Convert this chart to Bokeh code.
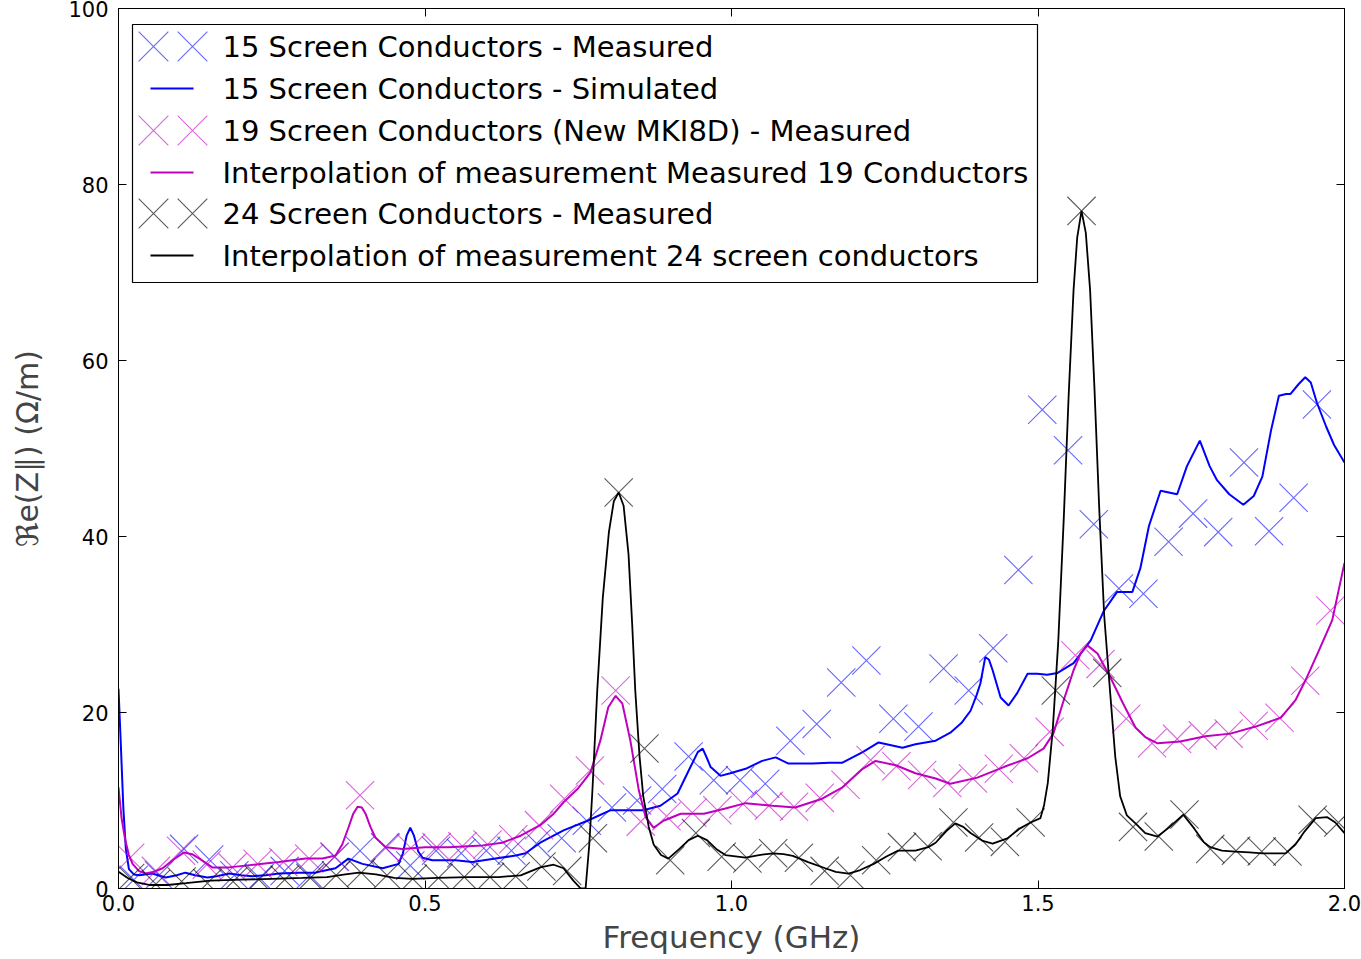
from bokeh.plotting import figure
from bokeh.models import Range1d, FixedTicker, LinearAxis, Label
from bokeh.embed import file_html
from bokeh.resources import INLINE

# ---------------- data ----------------
freq_15_meas = [0.025, 0.066, 0.107, 0.148, 0.189, 0.230, 0.271, 0.312, 0.353, 0.394,
                0.435, 0.476, 0.518, 0.559, 0.600, 0.641, 0.682, 0.723, 0.764, 0.805,
                0.846, 0.887, 0.930, 0.971, 1.014, 1.055, 1.096, 1.139, 1.179, 1.220,
                1.264, 1.305, 1.346, 1.387, 1.427, 1.468, 1.507, 1.549, 1.591, 1.632,
                1.672, 1.713, 1.753, 1.794, 1.836, 1.877, 1.917, 1.955]
re_15_meas = [1.0, 1.5, 4.5, 3.3, 1.5, 1.2, 2.0, 1.5, 3.6, 4.3,
              4.7, 2.6, 4.3, 4.0, 4.3, 4.3, 5.1, 5.7, 7.7, 9.2,
              10.0, 11.3, 15.0, 12.3, 12.3, 11.9, 16.8, 18.7, 23.4, 25.9,
              19.3, 18.4, 25.0, 22.5, 27.3, 36.2, 54.4, 49.8, 41.4, 34.1,
              33.5, 39.4, 42.6, 40.5, 48.4, 40.6, 44.4, 55.0]

freq_15_sim = [0.000, 0.004, 0.008, 0.012, 0.017, 0.025, 0.034, 0.055, 0.077, 0.095,
               0.109, 0.125, 0.145, 0.160, 0.181, 0.200, 0.218, 0.240, 0.262, 0.295,
               0.321, 0.333, 0.354, 0.375, 0.398, 0.431, 0.457, 0.464, 0.470, 0.476,
               0.482, 0.489, 0.496, 0.512, 0.550, 0.577, 0.615, 0.648, 0.664, 0.688,
               0.726, 0.765, 0.803, 0.830, 0.856, 0.884, 0.912, 0.933, 0.945, 0.953,
               0.960, 0.966, 0.982, 0.998, 1.023, 1.050, 1.072, 1.093, 1.132, 1.160,
               1.181, 1.214, 1.240, 1.279, 1.300, 1.333, 1.357, 1.375, 1.390, 1.400,
               1.406, 1.414, 1.420, 1.426, 1.439, 1.452, 1.466, 1.483, 1.499, 1.515,
               1.532, 1.558, 1.586, 1.607, 1.629, 1.654, 1.667, 1.681, 1.700, 1.727,
               1.743, 1.764, 1.780, 1.792, 1.812, 1.835, 1.852, 1.866, 1.880, 1.893,
               1.905, 1.912, 1.925, 1.936, 1.945, 1.955, 1.970, 1.983, 2.000]
re_15_sim = [22.7, 16.0, 9.0, 4.5, 2.2, 1.6, 1.5, 1.7, 1.25, 1.5,
             1.8, 1.5, 1.25, 1.4, 1.7, 1.5, 1.4, 1.5, 1.7, 1.8,
             1.8, 2.0, 2.3, 3.4, 2.8, 2.3, 2.8, 4.0, 6.0, 6.9,
             6.0, 4.2, 3.5, 3.2, 3.2, 3.0, 3.4, 3.75, 4.0, 5.2,
             6.6, 7.7, 8.9, 8.9, 8.9, 9.4, 10.8, 13.8, 15.5, 15.9,
             14.8, 13.8, 12.8, 13.1, 13.6, 14.5, 14.9, 14.2, 14.2, 14.3,
             14.3, 15.5, 16.6, 16.0, 16.4, 16.8, 17.7, 18.8, 20.2, 22.0,
             23.3, 26.3, 26.0, 24.8, 21.7, 20.8, 22.2, 24.4, 24.4, 24.3,
             24.5, 25.6, 28.2, 31.5, 33.7, 33.7, 36.4, 41.2, 45.2, 44.8,
             48.0, 50.9, 48.0, 46.4, 44.8, 43.6, 44.6, 46.8, 52.0, 56.0,
             56.2, 56.2, 57.3, 58.1, 57.5, 55.2, 52.5, 50.4, 48.4]

freq_19_meas = [0.019, 0.061, 0.102, 0.144, 0.186, 0.227, 0.269, 0.311, 0.352, 0.394,
                0.436, 0.477, 0.519, 0.561, 0.602, 0.644, 0.686, 0.727, 0.769, 0.811,
                0.852, 0.894, 0.936, 0.977, 1.019, 1.061, 1.102, 1.144, 1.186, 1.227,
                1.269, 1.311, 1.352, 1.394, 1.436, 1.477, 1.519, 1.561, 1.602, 1.644,
                1.686, 1.727, 1.769, 1.811, 1.852, 1.894, 1.936, 1.977]
re_19_meas = [3.5, 2.0, 4.3, 2.7, 2.4, 2.8, 3.0, 3.4, 3.6, 10.6,
              4.6, 4.6, 4.7, 4.8, 5.0, 5.6, 7.2, 10.2, 13.4, 22.5,
              7.6, 8.2, 8.6, 8.9, 9.6, 9.4, 9.3, 10.3, 11.8, 14.6,
              13.9, 12.9, 12.0, 12.5, 13.6, 14.8, 17.8, 26.5, 25.5, 19.3,
              16.5, 17.0, 17.4, 17.6, 18.5, 19.4, 23.6, 31.6]

freq_19_interp = [0.000, 0.005, 0.011, 0.017, 0.023, 0.033, 0.044, 0.058, 0.072, 0.090,
                  0.107, 0.120, 0.132, 0.153, 0.180, 0.207, 0.235, 0.262, 0.305, 0.333,
                  0.354, 0.365, 0.375, 0.383, 0.390, 0.397, 0.403, 0.411, 0.419, 0.436,
                  0.463, 0.500, 0.538, 0.594, 0.626, 0.656, 0.688, 0.710, 0.726, 0.750,
                  0.770, 0.786, 0.799, 0.811, 0.822, 0.835, 0.849, 0.860, 0.873, 0.889,
                  0.917, 0.955, 0.990, 1.023, 1.067, 1.104, 1.148, 1.181, 1.214, 1.235,
                  1.268, 1.300, 1.333, 1.357, 1.401, 1.444, 1.483, 1.509, 1.525, 1.542,
                  1.558, 1.570, 1.581, 1.597, 1.618, 1.639, 1.659, 1.675, 1.695, 1.732,
                  1.773, 1.814, 1.855, 1.896, 1.920, 1.936, 1.958, 1.980, 2.000]
re_19_interp = [11.5, 8.0, 5.5, 3.8, 2.8, 2.0, 1.7, 1.9, 2.3, 3.3,
                4.1, 3.9, 3.4, 2.4, 2.4, 2.6, 2.8, 3.0, 3.4, 3.4,
                3.75, 5.0, 6.9, 8.5, 9.3, 9.2, 8.5, 7.0, 5.8, 4.7,
                4.5, 4.7, 4.7, 4.9, 5.2, 6.0, 7.2, 8.5, 9.8, 11.4,
                13.2, 16.8, 20.6, 21.9, 21.0, 16.8, 11.1, 8.1, 6.9, 7.7,
                8.5, 8.5, 9.1, 9.7, 9.4, 9.2, 10.2, 11.5, 13.6, 14.5,
                14.0, 13.1, 12.5, 11.9, 12.6, 13.8, 14.8, 15.9, 17.6, 21.4,
                24.8, 26.8, 27.6, 26.7, 24.0, 21.0, 18.3, 17.2, 16.5, 16.7,
                17.3, 17.6, 18.4, 19.4, 21.4, 23.6, 27.0, 30.5, 37.0]

freq_24_meas = [0.019, 0.061, 0.103, 0.145, 0.187, 0.229, 0.271, 0.313, 0.355, 0.396,
                0.438, 0.480, 0.522, 0.564, 0.606, 0.648, 0.690, 0.732, 0.774, 0.816,
                0.858, 0.900, 0.942, 0.984, 1.026, 1.068, 1.110, 1.152, 1.194, 1.236,
                1.278, 1.320, 1.362, 1.404, 1.446, 1.488, 1.529, 1.571, 1.613, 1.655,
                1.697, 1.739, 1.781, 1.823, 1.865, 1.907, 1.948, 1.990]
re_24_meas = [1.2, 0.5, 0.8, 0.6, 0.8, 1.0, 1.0, 1.2, 1.5, 1.8,
              1.5, 1.1, 1.2, 1.3, 1.3, 1.4, 2.5, 2.0, 5.7, 45.0,
              15.9, 3.2, 6.3, 3.6, 3.4, 4.0, 3.5, 2.0, 1.5, 3.2,
              4.7, 4.8, 7.5, 5.8, 5.3, 7.5, 22.5, 77.0, 24.5, 7.0,
              5.9, 8.4, 4.5, 4.3, 4.2, 4.2, 7.8, 7.5]

freq_24_interp = [0.000, 0.015, 0.030, 0.050, 0.080, 0.110, 0.150, 0.200, 0.250, 0.300,
                  0.340, 0.370, 0.392, 0.420, 0.450, 0.480, 0.520, 0.570, 0.620, 0.656,
                  0.688, 0.710, 0.726, 0.742, 0.754, 0.762, 0.768, 0.773, 0.781, 0.790,
                  0.800, 0.808, 0.816, 0.824, 0.832, 0.838, 0.843, 0.850, 0.856, 0.865,
                  0.873, 0.885, 0.897, 0.915, 0.930, 0.945, 0.960, 0.975, 0.990, 1.023,
                  1.045, 1.068, 1.085, 1.100, 1.125, 1.153, 1.170, 1.191, 1.210, 1.232,
                  1.252, 1.272, 1.300, 1.321, 1.333, 1.350, 1.365, 1.378, 1.390, 1.410,
                  1.426, 1.450, 1.470, 1.488, 1.504, 1.510, 1.516, 1.524, 1.533, 1.542,
                  1.550, 1.558, 1.564, 1.571, 1.578, 1.585, 1.592, 1.600, 1.608, 1.618,
                  1.626, 1.634, 1.645, 1.659, 1.675, 1.695, 1.715, 1.737, 1.755, 1.770,
                  1.781, 1.800, 1.822, 1.845, 1.866, 1.885, 1.904, 1.920, 1.935, 1.953,
                  1.972, 1.985, 2.000]
re_24_interp = [1.9, 1.2, 0.7, 0.4, 0.4, 0.6, 0.9, 1.0, 1.1, 1.2,
                1.3, 1.6, 1.8, 1.6, 1.2, 1.1, 1.2, 1.3, 1.3, 1.5,
                2.4, 2.7, 2.3, 0.9, 0.0, 0.0, 5.0, 11.0, 22.5, 33.0,
                40.5, 44.0, 45.0, 43.5, 38.0, 30.0, 22.5, 15.0, 10.5, 7.0,
                5.0, 3.8, 3.4, 4.5, 5.5, 6.0, 5.5, 4.5, 3.8, 3.5,
                3.8, 4.0, 3.9, 3.7, 3.0, 2.3, 1.9, 1.7, 2.1, 2.8,
                3.6, 4.3, 4.3, 4.7, 5.2, 6.5, 7.4, 7.0, 6.3, 5.4,
                5.1, 5.7, 6.8, 7.5, 8.0, 9.5, 12.0, 18.0, 28.0, 42.0,
                56.0, 68.0, 74.0, 77.0, 74.5, 68.0, 57.0, 43.0, 31.0, 22.0,
                15.0, 10.5, 8.3, 7.4, 6.3, 5.9, 7.0, 8.4, 6.8, 5.3,
                4.7, 4.3, 4.2, 4.1, 4.0, 4.0, 4.0, 5.0, 6.5, 8.0,
                8.1, 7.5, 6.3]

x_ticks = [0.0, 0.5, 1.0, 1.5, 2.0]
x_tick_labels = ["0.0", "0.5", "1.0", "1.5", "2.0"]
y_ticks = [0, 20, 40, 60, 80, 100]
y_tick_labels = ["0", "20", "40", "60", "80", "100"]

legend_labels = ["15 Screen Conductors - Measured",
                 "15 Screen Conductors - Simulated",
                 "19 Screen Conductors (New MKI8D) - Measured",
                 "Interpolation of measurement Measured 19 Conductors",
                 "24 Screen Conductors - Measured",
                 "Interpolation of measurement 24 screen conductors"]

# ---------------- styling ----------------
BLUE = "#0000ff"
MAG = "#bf00bf"
BLACK = "#000000"
FONT = "DejaVu Sans"
MARK = 40

p = figure(width=1361, height=959, output_backend="svg", toolbar_location=None,
           x_range=Range1d(0, 2), y_range=Range1d(0, 100), title=None,
           min_border_left=118, min_border_right=17, min_border_top=8, min_border_bottom=71)
p.xgrid.visible = False
p.ygrid.visible = False
p.outline_line_color = "black"
p.outline_line_width = 1
p.background_fill_color = "white"
p.border_fill_color = "white"


def style_axis(ax, show_labels):
    ax.axis_line_color = "black"
    ax.axis_line_width = 1
    ax.major_tick_in = 8
    ax.major_tick_out = 0
    ax.major_tick_line_color = "black"
    ax.minor_tick_line_color = None
    ax.major_label_text_font = FONT
    if show_labels:
        ax.major_label_text_font_size = "21px"
        ax.major_label_text_color = "black"
    else:
        ax.major_label_text_font_size = "0px"
        ax.major_label_text_color = None
        ax.major_label_standoff = 0


xax = p.xaxis[0]
xax.ticker = FixedTicker(ticks=x_ticks)
xax.major_label_overrides = {t: l for t, l in zip(x_ticks, x_tick_labels)}
style_axis(xax, True)
xax.major_label_standoff = 6
xax.axis_label = "Frequency (GHz)"
xax.axis_label_text_font = FONT
xax.axis_label_text_font_size = "31px"
xax.axis_label_text_font_style = "normal"
xax.axis_label_standoff = 5

yax = p.yaxis[0]
yax.ticker = FixedTicker(ticks=y_ticks)
yax.major_label_overrides = {t: l for t, l in zip(y_ticks, y_tick_labels)}
style_axis(yax, True)
yax.major_label_standoff = 10
yax.axis_label = "\u211ce(Z\u2225) (\u03a9/m)"
yax.axis_label_text_font = FONT
yax.axis_label_text_font_size = "30px"
yax.axis_label_text_font_style = "normal"
yax.axis_label_standoff = 20

top_ax = LinearAxis(ticker=FixedTicker(ticks=x_ticks))
style_axis(top_ax, False)
p.add_layout(top_ax, "above")
right_ax = LinearAxis(ticker=FixedTicker(ticks=y_ticks))
style_axis(right_ax, False)
p.add_layout(right_ax, "right")

# ---------------- data glyphs ----------------
p.scatter(freq_15_meas, re_15_meas, marker="x", size=MARK, line_color=BLUE,
          line_alpha=0.6, line_width=1.1)
p.line(freq_15_sim, re_15_sim, line_color=BLUE, line_width=2)
p.scatter(freq_19_meas, re_19_meas, marker="x", size=MARK, line_color=MAG,
          line_alpha=0.6, line_width=1.1)
p.line(freq_19_interp, re_19_interp, line_color=MAG, line_width=2)
p.scatter(freq_24_meas, re_24_meas, marker="x", size=MARK, line_color=BLACK,
          line_alpha=0.65, line_width=1.1)
p.line(freq_24_interp, re_24_interp, line_color=BLACK, line_width=1.8)

# ---------------- legend (drawn box, samples and texts) ----------------
FRAME_L, FRAME_B, PX_PER_X, PX_PER_Y = 118, 888, 613.0, 8.8


def px2x(px):
    return (px - FRAME_L) / PX_PER_X


def py2y(py):
    return (FRAME_B - py) / PX_PER_Y


p.quad(left=[px2x(132)], right=[px2x(1037)], top=[py2y(24)], bottom=[py2y(282)],
       fill_color="white", line_color="black", line_width=1.2)

row_py = [46, 88, 130, 172, 213, 255]
kinds = [("m", BLUE, 0.6), ("l", BLUE, 1), ("m", MAG, 0.6),
         ("l", MAG, 1), ("m", BLACK, 0.65), ("l", BLACK, 1)]
for (kind, col, alpha), ry, lab in zip(kinds, row_py, legend_labels):
    yy = py2y(ry)
    if kind == "m":
        p.scatter([px2x(153), px2x(192)], [yy, yy], marker="x", size=MARK + 2,
                  line_color=col, line_alpha=alpha, line_width=1.1)
    else:
        p.segment(x0=[px2x(150)], y0=[yy], x1=[px2x(193)], y1=[yy],
                  line_color=col, line_width=2)
    p.add_layout(Label(x=px2x(222), y=yy, text=lab, text_font=FONT,
                       text_font_size="29px", text_baseline="middle",
                       text_align="left", text_color="black"))

open("out.html", "w").write(file_html(p, INLINE))
